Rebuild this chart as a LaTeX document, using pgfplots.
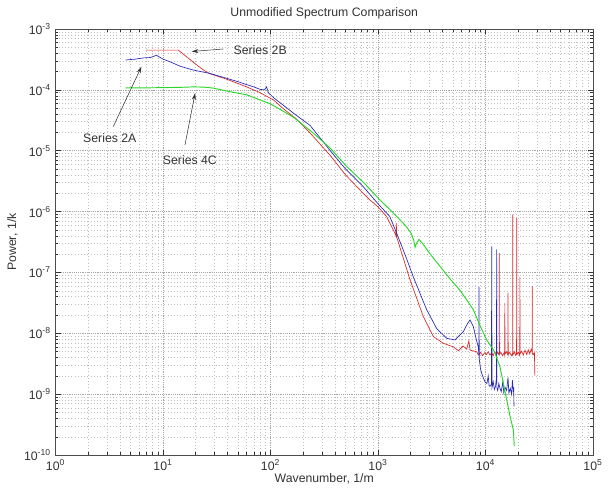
\documentclass[border=0pt]{standalone}
\usepackage{fontspec}
\setmainfont{Liberation Sans}
\usepackage{pgfplots}
\pgfplotsset{compat=1.18}
\usetikzlibrary{arrows.meta,calc}
\definecolor{cblue}{RGB}{40,40,185}
\definecolor{cred}{RGB}{215,40,40}
\definecolor{cgreen}{RGB}{40,215,40}
\newcommand{\lfont}{\fontsize{9.2}{11}\selectfont}
\begin{document}
\begin{tikzpicture}
\begin{axis}[
  scale only axis, width=403pt, height=319.5pt,
  xmode=log, ymode=log,
  xmin=1, xmax=1e5, ymin=1e-10, ymax=1e-3,
  xtick={1,10,100,1000,10000,100000},
  ytick={1e-10,1e-9,1e-8,1e-7,1e-6,1e-5,1e-4,1e-3},
  minor xtick={2,3,4,5,6,7,8,9,20,30,40,50,60,70,80,90,200,300,400,500,600,700,800,900,2000,3000,4000,5000,6000,7000,8000,9000,20000,30000,40000,50000,60000,70000,80000,90000},
  minor ytick={2e-10,3e-10,4e-10,5e-10,6e-10,7e-10,8e-10,9e-10,2e-9,3e-9,4e-9,5e-9,6e-9,7e-9,8e-9,9e-9,2e-8,3e-8,4e-8,5e-8,6e-8,7e-8,8e-8,9e-8,2e-7,3e-7,4e-7,5e-7,6e-7,7e-7,8e-7,9e-7,2e-6,3e-6,4e-6,5e-6,6e-6,7e-6,8e-6,9e-6,2e-5,3e-5,4e-5,5e-5,6e-5,7e-5,8e-5,9e-5,2e-4,3e-4,4e-4,5e-4,6e-4,7e-4,8e-4,9e-4},
  log number format basis/.code 2 args={#1\textsuperscript{\pgfmathprintnumber[assume math mode=true]{#2}}},
  grid=both,
  major grid style={densely dotted, gray!70, line width=0.4pt},
  minor grid style={dotted, gray!50, line width=0.4pt},
  tick align=inside, tick pos=both,
  major tick length=4pt, minor tick length=2.2pt,
  axis line style={gray!60!black, line width=0.5pt},
  every tick/.style={gray!40!black, line width=0.4pt},
  tick label style={font=\lfont, text=black!80},
  label style={font=\lfont, text=black!80},
  every axis title shift=0pt,
  title style={font=\lfont, text=black!80, at={(axis description cs:0.5,1.036)}, anchor=center},
  title={Unmodified Spectrum Comparison},
  xlabel={Wavenumber, 1/m},
  ylabel={Power, 1/k},
  xlabel style={at={(axis description cs:0.5,-0.056)}, anchor=center},
  ylabel style={at={(axis description cs:-0.08,0.5)}, anchor=center},
]
% Series 2B (red)
\addplot[cred, line width=0.5pt] table {
6.95 4.5e-4
13.9 4.5e-4
21.3 2.45e-4
24 2.1e-4
27.4 1.84e-4
39.1 1.5e-4
60 1.12e-4
80 9.0e-5
107 6.8e-5
130 5.0e-5
175 3.3e-5
234 1.95e-5
357 8.5e-6
500 4.0e-6
729 2.0e-6
843 1.55e-6
1000 1.2e-6
1202 8.3e-7
1439 4.4e-7
1470 4.0e-7
1480 6.5e-7
1495 3.8e-7
1986 7.6e-8
2636 1.9e-8
3266 8.9e-9
4046 6.9e-9
5012 6.0e-9
5600 5.2e-9
6200 6.2e-9
6683 5.5e-9
7000 7.5e-9
7200 5.3e-9
8279 5.0e-9
8600 4.4e-9
9000 4.9e-9
9400 4.3e-9
9800 4.8e-9
10200 4.5e-9
10600 5.0e-9
11000 4.4e-9
11400 4.8e-9
11800 4.3e-9
12200 5.0e-9
12600 4.5e-9
13000 4.9e-9
13380 4.4e-9
13430 2.1e-7
13480 4.5e-9
13900 4.9e-9
14400 4.3e-9
14900 4.8e-9
15100 4.4e-9
15140 3.2e-8
15180 4.6e-9
15700 5.0e-9
16180 4.4e-9
16220 4.6e-8
16260 4.5e-9
16800 4.9e-9
17400 4.3e-9
17880 4.7e-9
17910 8.9e-7
17950 4.4e-9
18600 5.0e-9
19000 4.4e-9
19460 4.7e-9
19500 7.8e-7
19540 4.5e-9
20200 4.9e-9
20850 4.3e-9
20890 8.5e-8
20930 4.6e-9
21700 5.1e-9
22500 4.4e-9
23300 5.3e-9
24200 4.5e-9
25000 5.4e-9
25800 4.6e-9
26600 5.5e-9
27200 4.8e-9
27230 6.0e-8
27260 4.7e-9
27900 4.5e-9
28500 4.9e-9
28800 2.0e-9
};
% Series 2A (blue)
\addplot[cblue, line width=0.5pt] table {
4.5 3.1e-4
5.5 3.2e-4
6.6 3.35e-4
7.6 3.4e-4
8.7 3.7e-4
10 3.2e-4
11.6 2.9e-4
14.4 2.45e-4
19.1 2.12e-4
27.4 1.86e-4
39.1 1.55e-4
50 1.36e-4
60 1.22e-4
70 1.12e-4
80 1.02e-4
88 1.0e-4
92 1.12e-4
95.5 9.0e-5
107 7.4e-5
130 5.7e-5
162 4.2e-5
234 2.6e-5
357 1.02e-5
500 5.0e-6
729 2.57e-6
1000 1.35e-6
1288 8.3e-7
1493 4.4e-7
1800 1.9e-7
2128 8.5e-8
2838 2.45e-8
3516 1.2e-8
4355 8.3e-9
5200 7.8e-9
6223 1.07e-8
6800 1.45e-8
7178 1.66e-8
7709 1.29e-8
8200 8.0e-9
8570 6.0e-9
8680 4.5e-9
8710 5.8e-8
8740 3.8e-9
9000 2.6e-9
9226 2.2e-9
9500 1.9e-9
9886 1.6e-9
10300 1.5e-9
10600 2.0e-9
10800 1.4e-9
11000 1.35e-9
11350 1.45e-9
11430 2.7e-7
11500 1.3e-9
11800 1.6e-9
12100 1.2e-9
12400 1.35e-9
12650 1.9e-9
12700 2.4e-7
12750 1.3e-9
13000 1.15e-9
13300 1.5e-9
13650 1.25e-9
14000 1.1e-9
14500 1.6e-9
14800 1.05e-9
15200 1.3e-9
15740 1.15e-9
16200 1.9e-9
16500 1.05e-9
17000 1.25e-9
17500 1.0e-9
17800 1.7e-9
18160 1.1e-9
18300 1.3e-9
18410 6.3e-10
};
% Series 4C (green)
\addplot[cgreen, line width=0.7pt] table {
4.5 1.08e-4
7 1.08e-4
10 1.09e-4
14.4 1.1e-4
19.1 1.12e-4
24 1.11e-4
29.4 1.07e-4
40 9.5e-5
60 8.3e-5
100 5.9e-5
162 3.6e-5
250 1.95e-5
360 1.1e-5
512 5.5e-6
750 2.9e-6
1045 1.55e-6
1479 8.5e-7
1849 5.6e-7
2050 4.3e-7
2150 3.4e-7
2210 2.6e-7
2280 3.0e-7
2404 3.5e-7
2600 3.0e-7
3000 2.1e-7
3776 1.26e-7
4700 7.8e-8
5794 5.1e-8
6800 3.4e-8
7709 2.45e-8
8800 1.4e-8
10260 7.8e-9
11830 5.4e-9
12400 4.5e-9
13650 2.8e-9
14700 1.5e-9
15740 8.1e-10
17000 4.2e-10
18160 2.6e-10
18530 1.4e-10
};
\node[font=\lfont, text=black!80] at (axis cs:3.2,1.62e-5) {Series 2A};
\draw[black!80, line width=0.4pt, -{Stealth[length=5pt,width=3pt]}] (axis cs:3.45,2.5e-5) -- (axis cs:6.3,2.4e-4);
\node[font=\lfont, text=black!80] at (axis cs:17.8,7.1e-6) {Series 4C};
\draw[black!80, line width=0.4pt, -{Stealth[length=5pt,width=3pt]}] (axis cs:16,1.24e-5) -- (axis cs:19.9,8.8e-5);
\node[font=\lfont, text=black!80, anchor=west] at (axis cs:41,4.52e-4) {Series 2B};
\draw[black!80, line width=0.4pt, -{Stealth[length=5pt,width=3pt]}] (axis cs:36.4,4.7e-4) -- (axis cs:18.5,4.27e-4);
\end{axis}
\pgfresetboundingbox
\path ($(current axis.south west)+(-41.6pt,-24pt)$) rectangle ($(current axis.north east)+(11.25pt,21.75pt)$);
\end{tikzpicture}
\end{document}
